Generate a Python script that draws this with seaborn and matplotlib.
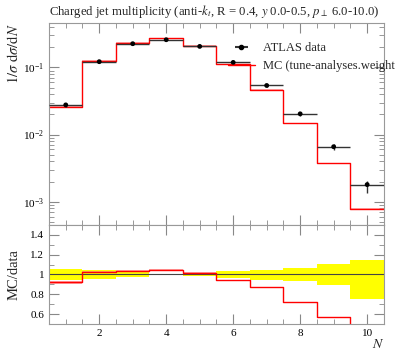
import numpy as np
import pandas as pd
import matplotlib
matplotlib.use("Agg")
import matplotlib.pyplot as plt
import matplotlib.ticker as mticker
from matplotlib.lines import Line2D
import seaborn as sns

# ---- data ----
N = [1, 2, 3, 4, 5, 6, 7, 8, 9, 10]
data_vals = [0.0277, 0.122, 0.226, 0.259, 0.206, 0.119, 0.0539, 0.0204, 0.0066, 0.0018]
data_err_up = [0.06, 0.05, 0.03, 0.01, 0.02, 0.04, 0.05, 0.07, 0.11, 0.15]   # relative
data_err_dn = [0.06, 0.05, 0.03, 0.01, 0.02, 0.04, 0.06, 0.07, 0.11, 0.25]   # relative
mc_ratio = [0.92, 1.03, 1.04, 1.05, 1.02, 0.94, 0.87, 0.72, 0.57, 0.44]
mc_err = [0.012, 0.006, 0.006, 0.008, 0.005, 0.004, 0.004, 0.006, 0.006, 0.003]  # relative
xticks = [2, 4, 6, 8, 10]
ratio_ticks = [0.6, 0.8, 1.0, 1.2, 1.4]

title = r"Charged jet multiplicity (anti-$k_t$, R = 0.4, $y$ 0.0-0.5, $p_\perp$ 6.0-10.0)"

sns.set_theme(style="ticks")
plt.rcParams['font.family'] = ['Liberation Serif', 'DejaVu Serif']
plt.rcParams['mathtext.fontset'] = 'stix'

df = pd.DataFrame({"N": N, "data": data_vals, "ratio": mc_ratio,
                   "eu": data_err_up, "ed": data_err_dn, "mce": mc_err})
df["mc"] = df["data"] * df["ratio"]
edges = [float(v) for v in np.arange(min(N) - 0.5, max(N) + 1.0, 1.0)]

fig = plt.figure(figsize=(3.97, 3.58), dpi=100)
ax = fig.add_axes([0.1234, 0.3715, 0.967 - 0.1234, 0.9358 - 0.3715])
rax = fig.add_axes([0.1234, 0.095, 0.967 - 0.1234, 0.3715 - 0.095], sharex=ax)

# ---- main panel ----
xe = np.array(edges)
lo_v = (df["mc"] * (1 - 3 * df["mce"])).to_numpy()
hi_v = (df["mc"] * (1 + 3 * df["mce"])).to_numpy()
ax.fill_between(xe, np.append(lo_v, lo_v[-1]), np.append(hi_v, hi_v[-1]),
                step="post", color="#ff8080", alpha=0.6, lw=0)
sns.histplot(data=df, x="N", weights="mc", bins=edges, element="step", fill=False,
             color="red", linewidth=1.0, ax=ax)
ax.errorbar(df["N"], df["data"], xerr=0.5,
            yerr=[df["data"] * df["ed"], df["data"] * df["eu"]],
            fmt="none", ecolor="#333333", elinewidth=1.0, zorder=3)
sns.scatterplot(data=df, x="N", y="data", color="black", s=12, edgecolor="none",
                ax=ax, zorder=4)
ax.set_yscale("log")
ax.set_xlim(0.5, 10.5)
ax.set_ylim(4.5e-4, 0.46)
ax.set_xlabel("")
ax.set_ylabel(r"$1/\sigma\ \mathrm{d}\sigma/\mathrm{d}N$", fontsize=10.5)
ax.yaxis.set_label_coords(-0.085, 0.85)
ax.set_title(title, fontsize=9.2, loc="left", pad=6)
ax.tick_params(labelbottom=False)

h_data = ax.errorbar([], [], xerr=[], fmt="o", color="black", ecolor="#333333", ms=3)
h_mc = Line2D([], [], color="red", lw=1.0)
leg = ax.legend([h_data, h_mc], ["ATLAS data", "MC (tune-analyses.weight"],
                loc="upper left", bbox_to_anchor=(0.5, 0.96), frameon=False,
                fontsize=9, handlelength=2.2, handletextpad=0.6, labelspacing=0.45)

# ---- ratio panel ----
bottom = [1 - d for d in data_err_dn]
height = [u + d for u, d in zip(data_err_up, data_err_dn)]
rax.bar(N, height, bottom=bottom, width=1.0, color="#ffff00", lw=0, zorder=1)
rax.axhline(1.0, color="#444444", lw=0.8, zorder=2)
rlo = (df["ratio"] * (1 - df["mce"])).to_numpy()
rhi = (df["ratio"] * (1 + df["mce"])).to_numpy()
rax.fill_between(xe, np.append(rlo, rlo[-1]), np.append(rhi, rhi[-1]),
                 step="post", color="#ff8080", alpha=0.7, lw=0, zorder=2)
sns.histplot(data=df, x="N", weights="ratio", bins=edges, element="step", fill=False,
             color="red", linewidth=1.0, ax=rax)
rax.set_ylim(0.5, 1.5)
rax.set_xlim(0.5, 10.5)
rax.set_yticks(ratio_ticks)
rax.yaxis.set_major_formatter(mticker.FuncFormatter(lambda v, p: f"{v:g}"))
rax.yaxis.set_minor_locator(mticker.MultipleLocator(0.1))
rax.set_xticks(xticks)
rax.xaxis.set_minor_locator(mticker.MultipleLocator(0.5))
rax.set_ylabel("MC/data", fontsize=10.5)
rax.yaxis.set_label_coords(-0.085, 0.5)
rax.set_xlabel(r"$N$", fontsize=10, loc="right", labelpad=0)

for a in (ax, rax):
    a.tick_params(which="both", direction="in", top=True, right=True, colors="#888888",
                  labelcolor="black", labelsize=8)
    a.tick_params(which="major", length=7, width=0.8)
    a.tick_params(which="minor", length=3.5, width=0.6)
    for s in a.spines.values():
        s.set_color("#999999")
        s.set_linewidth(0.8)

fig.savefig("out.png", dpi=100)
